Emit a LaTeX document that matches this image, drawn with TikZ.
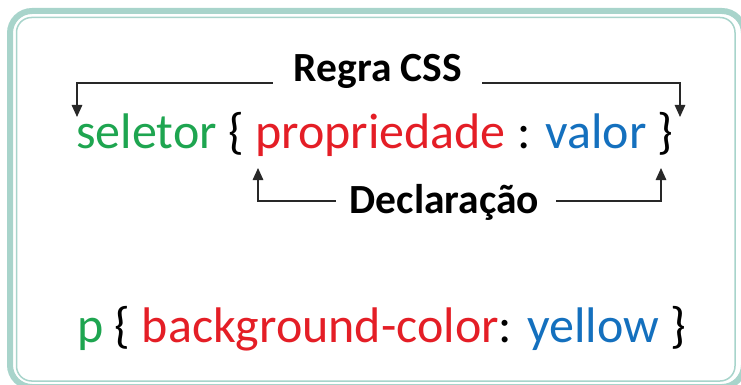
\documentclass[tikz,border=0pt]{standalone}
\usepackage{fontspec}
\setmainfont{Carlito}
\usetikzlibrary{arrows.meta}
\definecolor{frameteal}{RGB}{168,212,203}
\definecolor{selgreen}{RGB}{30,165,80}
\definecolor{propred}{RGB}{228,30,38}
\definecolor{valblue}{RGB}{20,112,190}
\definecolor{linegray}{RGB}{40,40,40}
\begin{document}
\begin{tikzpicture}[x=1pt,y=-1pt,
  code/.style={font=\fontsize{50}{60}\selectfont, inner sep=0pt, anchor=base west},
  caption/.style={font=\fontsize{41.5}{50}\selectfont\bfseries, inner sep=0pt, anchor=base},
  pointer/.style={draw=linegray, line width=1.4pt, -{Triangle[length=12pt,width=10.5pt]}},
]
\useasboundingbox (0,0) rectangle (741,385);
% double frame
\draw[frameteal, line width=6pt, rounded corners=22pt] (10,11) rectangle (744,387);
\draw[frameteal, line width=1.5pt, rounded corners=15pt] (16.5,17.5) rectangle (735,381);

% general rule
\node[code] (rule) at (76,148) {\color{selgreen}seletor \color{black}\{ \color{propred}propriedade \color{black}: \color{valblue}valor \color{black}\}};
\node[caption] (regra) at (378,82) {Regra CSS};
\node[caption] (decl) at (444.5,213) {Declaração};

% arrow targets
\coordinate (selTop) at (77,117);
\coordinate (braceTop) at (680,117);
\coordinate (propTip) at (258,168);
\coordinate (closeTip) at (661,168);

\draw[pointer] ([xshift=-21pt,yshift=-1pt]regra.base west) -| (selTop);
\draw[pointer] ([xshift=20pt,yshift=-1pt]regra.base east) -| (braceTop);
\draw[pointer] ([xshift=-14pt,yshift=12pt]decl.base west) -| (propTip);
\draw[pointer] ([xshift=17pt,yshift=12pt]decl.base east) -| (closeTip);

% example
\node[code] (example) at (77,342) {\color{selgreen}p \color{black}\{ \color{propred}background-color\color{black}: \color{valblue}yellow \color{black}\}};
\end{tikzpicture}
\end{document}
